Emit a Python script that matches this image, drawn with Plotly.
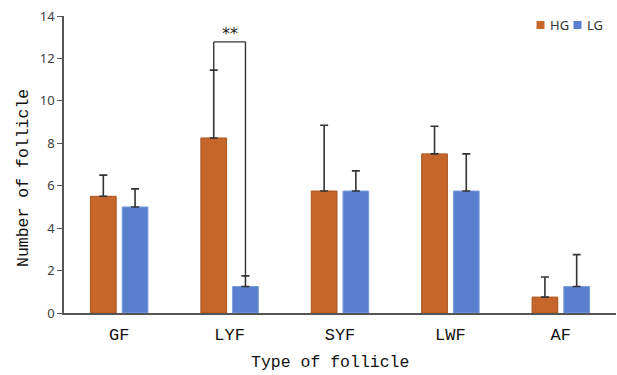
import plotly.graph_objects as go

categories = ["GF", "LYF", "SYF", "LWF", "AF"]
hg_mean = [5.5, 8.25, 5.75, 7.5, 0.75]
hg_err = [1.0, 3.2, 3.1, 1.3, 0.95]
lg_mean = [5.0, 1.25, 5.75, 5.75, 1.25]
lg_err = [0.85, 0.5, 0.95, 1.75, 1.5]
y_ticks = [0, 2, 4, 6, 8, 10, 12, 14]
series_names = ["HG", "LG"]

HG_COLOR = "#C6662A"
LG_COLOR = "#5A7FCF"
BARGAP = 0.425
label_font = "Liberation Mono"

W, H = 617, 375
M = dict(l=64, r=1, t=16, b=62)
PW = W - M["l"] - M["r"]
PH = H - M["t"] - M["b"]


def px_x(px):
    return (px - M["l"]) / PW


def px_y(py):
    return (H - M["b"] - py) / PH


fig = go.Figure()
fig.add_trace(go.Bar(
    name=series_names[0], x=categories, y=hg_mean, showlegend=False,
    marker=dict(color=HG_COLOR, line=dict(color="#A9551F", width=1)),
    error_y=dict(type="data", array=hg_err, arrayminus=[0] * 5, symmetric=False,
                 color="#333333", thickness=1.6, width=4),
))
fig.add_trace(go.Bar(
    name=series_names[1], x=categories, y=lg_mean, showlegend=False,
    marker=dict(color=LG_COLOR, line=dict(color="#7C9CDD", width=1)),
    error_y=dict(type="data", array=lg_err, arrayminus=[0] * 5, symmetric=False,
                 color="#333333", thickness=1.6, width=4),
))

# significance bracket between HG and LG for LYF
slot = (1 - BARGAP) / 2
i = categories.index("LYF")
x_hg = i - slot / 2
x_lg = i + slot / 2
bracket_top = 12.78
line_style = dict(color="#333333", width=1.4)
fig.add_shape(type="line", x0=x_hg, x1=x_hg, y0=hg_mean[i] + hg_err[i], y1=bracket_top, line=line_style)
fig.add_shape(type="line", x0=x_hg, x1=x_lg, y0=bracket_top, y1=bracket_top, line=line_style)
fig.add_shape(type="line", x0=x_lg, x1=x_lg, y0=lg_mean[i] + lg_err[i], y1=bracket_top, line=line_style)
fig.add_annotation(x=i, y=bracket_top, text="**", showarrow=False, yanchor="bottom",
                   yshift=-3, font=dict(family="DejaVu Sans", size=16, color="#222222"))

# compact legend: small squares with labels, top right
legend_items = [(series_names[0], HG_COLOR, 540.5), (series_names[1], LG_COLOR, 577.5)]
for name, color, cx in legend_items:
    fig.add_shape(type="rect", xref="paper", yref="paper", xsizemode="pixel", ysizemode="pixel",
                  xanchor=px_x(cx), yanchor=px_y(25), x0=-4, x1=4, y0=-4, y1=4,
                  fillcolor=color, line=dict(width=0))
    fig.add_annotation(xref="paper", yref="paper", x=px_x(cx + 7), y=px_y(25), text=name,
                       showarrow=False, xanchor="left", yanchor="middle",
                       font=dict(family="Noto Sans", size=13, color="#333333"))

# axis titles
fig.add_annotation(xref="paper", yref="paper", x=px_x(330), y=px_y(363), text="Type of follicle",
                   showarrow=False, xanchor="center", yanchor="middle",
                   font=dict(family=label_font, size=16.5, color="#111111"))
fig.add_annotation(xref="paper", yref="paper", x=px_x(23), y=px_y(178), text="Number of follicle",
                   showarrow=False, textangle=-90, xanchor="center", yanchor="middle",
                   font=dict(family=label_font, size=16.5, color="#111111"))

fig.update_layout(
    width=W, height=H,
    margin=M,
    paper_bgcolor="white", plot_bgcolor="white",
    barmode="group", bargap=BARGAP, bargroupgap=0.19,
    showlegend=False,
    xaxis=dict(
        showline=True, linecolor="#555555", linewidth=1.6, ticks="",
        ticklabelstandoff=5,
        tickfont=dict(family=label_font, size=17, color="#111111"),
    ),
    yaxis=dict(
        range=[0, 14], tickvals=y_ticks, showgrid=False, zeroline=False,
        showline=True, linecolor="#555555", linewidth=1.6,
        ticks="outside", ticklen=5, tickcolor="#555555", tickwidth=1.4,
        tickfont=dict(family="Noto Sans", size=13, color="#404040"),
    ),
)

fig.write_html("out.html")
